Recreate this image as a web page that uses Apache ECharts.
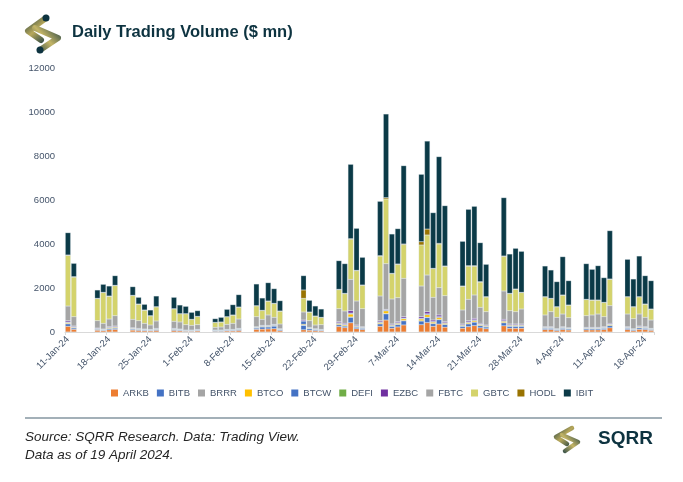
<!DOCTYPE html>
<html>
<head>
<meta charset="utf-8">
<script src="https://cdn.jsdelivr.net/npm/echarts@6/dist/echarts.min.js"></script>
<style>
html,body{margin:0;padding:0;background:#fff;}
#chart{width:683px;height:482px;}
</style>
</head>
<body>
<div id="chart"></div>
<script>
// ---- Data (US$ mn, daily trading volume by spot bitcoin ETF) ----
const tickLabels = ['11-Jan-24','18-Jan-24','25-Jan-24','1-Feb-24','8-Feb-24','15-Feb-24','22-Feb-24','29-Feb-24','7-Mar-24','14-Mar-24','21-Mar-24','28-Mar-24','4-Apr-24','11-Apr-24','18-Apr-24'];

const tradingDates = [
 '11-Jan-24','12-Jan-24',
 '16-Jan-24','17-Jan-24','18-Jan-24','19-Jan-24',
 '22-Jan-24','23-Jan-24','24-Jan-24','25-Jan-24','26-Jan-24',
 '29-Jan-24','30-Jan-24','31-Jan-24','1-Feb-24','2-Feb-24',
 '5-Feb-24','6-Feb-24','7-Feb-24','8-Feb-24','9-Feb-24',
 '12-Feb-24','13-Feb-24','14-Feb-24','15-Feb-24','16-Feb-24',
 '20-Feb-24','21-Feb-24','22-Feb-24','23-Feb-24',
 '26-Feb-24','27-Feb-24','28-Feb-24','29-Feb-24','1-Mar-24',
 '4-Mar-24','5-Mar-24','6-Mar-24','7-Mar-24','8-Mar-24',
 '11-Mar-24','12-Mar-24','13-Mar-24','14-Mar-24','15-Mar-24',
 '18-Mar-24','19-Mar-24','20-Mar-24','21-Mar-24','22-Mar-24',
 '25-Mar-24','26-Mar-24','27-Mar-24','28-Mar-24',
 '1-Apr-24','2-Apr-24','3-Apr-24','4-Apr-24','5-Apr-24',
 '8-Apr-24','9-Apr-24','10-Apr-24','11-Apr-24','12-Apr-24',
 '15-Apr-24','16-Apr-24','17-Apr-24','18-Apr-24','19-Apr-24'
];

const ARKB = [260,120, 80,60,100,115, 85,70,55,50,70, 70,55,35,35,50, 30,30,50,50,70, 120,130,140,150,60, 100,80,60,50, 250,200,420,150,110, 260,545,170,230,320, 330,430,260,360,220, 170,240,290,190,150, 280,170,170,170, 110,110,65,110,90, 95,95,95,110,190, 110,65,120,110,75];
const BITB = [110,65, 40,30,55,60, 45,40,35,30,40, 40,35,25,25,30, 35,35,35,35,45, 60,100,90,120,45, 200,70,45,35, 80,70,250,70,60, 110,280,90,110,190, 170,230,120,200,120, 90,130,160,100,80, 140,90,90,90, 60,60,45,60,50, 55,55,55,60,100, 60,45,70,60,45];
const BRRR = [15,8, 5,4,5,6, 4,4,3,3,4, 4,3,2,2,3, 2,2,3,3,4, 5,5,5,5,3, 10,4,3,3, 8,6,15,5,4, 8,15,5,6,10, 10,12,8,10,6, 5,7,8,5,4, 7,5,5,5, 4,4,3,4,3, 3,3,3,4,5, 4,3,4,4,3];
const BTCO = [40,30, 20,15,35,40, 25,20,15,13,20, 20,15,10,10,13, 8,8,12,12,18, 20,25,25,25,15, 40,20,15,12, 50,45,130,35,25, 50,120,40,50,80, 80,110,60,90,50, 40,55,65,40,35, 60,40,40,40, 25,25,15,25,20, 22,22,22,25,40, 25,15,30,25,18];
const BTCW = [25,15, 10,8,15,15, 12,10,9,8,10, 10,9,6,6,8, 6,6,8,8,10, 15,20,20,25,10, 150,18,10,8, 30,25,40,20,15, 30,40,20,25,30, 30,40,30,35,25, 20,25,30,20,15, 25,20,20,20, 15,15,10,15,12, 13,13,13,15,20, 15,10,18,15,10];
const DEFI = [5,3, 2,2,2,3, 2,2,2,2,2, 2,2,1,1,2, 1,1,1,1,2, 2,2,2,2,1, 5,2,1,1, 2,2,5,2,2, 3,5,2,2,3, 3,4,3,3,2, 2,3,3,2,2, 3,2,2,2, 2,2,1,2,2, 2,2,2,2,2, 2,1,2,2,1];
const EZBC = [60,32, 23,17,30,33, 24,21,17,15,21, 21,17,11,11,15, 8,8,12,12,18, 20,21,21,21,18, 40,18,18,12, 50,46,110,36,26, 54,25,37,47,64, 74,98,64,75,47, 37,55,65,37,32, 61,37,37,37, 26,26,13,26,20, 22,22,22,26,37, 26,13,28,26,15];
const FBTC = [665,424, 335,258,348,470, 379,348,258,197,333, 318,319,243,213,212, 122,137,227,273,423, 455,273,470,319,212, 364,303,166,212, 590,561,1424,1091,818, 1121,2076,1136,1090,1742, 1393,1666,1031,1242,1181, 636,970,1061,727,606, 1287,606,560,681, 531,682,515,576,454, 530,561,606,455,803, 576,454,546,425,378];
const GBTC = [2300,1800, 1000,1395,1030,1363, 1075,745,596,414,640, 565,370,492,265,371, 220,221,340,370,536, 490,400,626,626,581, 621,382,400,325, 860,782,1818,1374,1056, 1814,2940,1146,1511,1531, 1864,1819,1298,1985,1329, 1070,1505,1308,1147,667, 1566,772,1015,743, 820,593,474,851,566, 733,671,626,641,1197, 778,535,778,595,490];
const HODL = [20,18, 15,14,16,16, 15,12,10,10,11, 10,8,8,8,8, 7,7,9,9,10, 10,9,10,10,10, 380,12,9,9, 19,20,30,20,20, 20,60,20,20,30, 150,270,20,30,20, 20,25,25,20,15, 25,15,15,15, 13,13,10,13,10, 10,10,10,10,15, 10,10,10,10,10];
const IBIT = [1014,605, 379,364,454,439, 394,304,257,258,485, 516,394,333,318,258, 167,211,333,469,561, 985,560,833,667,469, 651,530,455,378, 1303,1349,3379,1909,1258, 2469,3803,1788,1606,3560, 3063,4000,2530,3940,2742, 2031,2561,2697,1772,1470, 2652,1788,1849,1863, 1394,1288,1137,1742,1106, 1621,1394,1561,1122,2197, 1697,1258,1848,1288,1288];

const seriesNames = ['ARKB','BITB','BRRR','BTCO','BTCW','DEFI','EZBC','FBTC','GBTC','HODL','IBIT'];
const seriesValues = [ARKB,BITB,BRRR,BTCO,BTCW,DEFI,EZBC,FBTC,GBTC,HODL,IBIT];
const seriesColors = ['#ED7D31','#4472C4','#A5A5A5','#FFC000','#4472C4','#70AD47','#7030A0','#A5A5A5','#D4D36B','#997300','#0B3A47'];

// ---- calendar-day category axis (11 Jan – 19 Apr 2024) ----
const MONTHS = ['Jan','Feb','Mar','Apr','May','Jun','Jul','Aug','Sep','Oct','Nov','Dec'];
const days = [];
for (let t = Date.UTC(2024,0,11); t <= Date.UTC(2024,3,19); t += 86400000) {
  const d = new Date(t);
  days.push(d.getUTCDate() + '-' + MONTHS[d.getUTCMonth()] + '-24');
}
const tickSet = new Set(tickLabels);

const chart = echarts.init(document.getElementById('chart'), null, {renderer:'canvas'});

const series = seriesNames.map((name, k) => ({
  name: name,
  type: 'bar',
  stack: 'vol',
  barWidth: '90%',
  itemStyle: { color: seriesColors[k], borderColor: 'rgba(210,222,228,0.8)', borderWidth: 0.35 },
  emphasis: { disabled: true },
  data: tradingDates.map((d, i) => [d, seriesValues[k][i]])
}));

const txt = '#44546A';
const FONT = 'Liberation Sans, Arial, sans-serif';

chart.setOption({
  animation: false,
  backgroundColor: '#ffffff',
  textStyle: { fontFamily: FONT },
  grid: { left: 65, right: 29, top: 68, bottom: 150 },
  xAxis: {
    type: 'category',
    data: days,
    boundaryGap: true,
    axisLine: { show: true, lineStyle: { color: '#D9D9D9', width: 1 } },
    axisTick: { show: true, length: 3, lineStyle: { color: '#D9D9D9' },
      interval: (idx, val) => tickSet.has(val) },
    axisLabel: { rotate: 45, fontSize: 9.5, color: txt, margin: 6,
      interval: (idx, val) => tickSet.has(val) },
    splitLine: { show: false }
  },
  yAxis: {
    type: 'value',
    min: 0, max: 12000, interval: 2000,
    axisLine: { show: false },
    axisTick: { show: false },
    splitLine: { show: false },
    axisLabel: { fontSize: 9.5, color: txt, margin: 10, formatter: v => String(v) }
  },
  legend: {
    data: seriesNames,
    top: 383,
    left: 106,
    icon: 'rect',
    itemWidth: 7,
    itemHeight: 7,
    itemGap: 8,
    itemStyle: { borderWidth: 0 },
    textStyle: { fontSize: 9.5, color: txt },
    selectedMode: false
  },
  series: series,
  graphic: [
    // logo icon (top-left)
    { type: 'polyline', shape: { points: [[46,18],[28,31],[41,40]] },
      style: { fill: null, lineWidth: 6, lineCap: 'round', lineJoin: 'round',
        stroke: new echarts.graphic.LinearGradient(0,0,1,1,[{offset:0,color:'#0d3340'},{offset:0.5,color:'#b8a85a'},{offset:1,color:'#0d3340'}]) } },
    { type: 'polyline', shape: { points: [[35,28],[58,38],[40,50]] },
      style: { fill: null, lineWidth: 6, lineCap: 'round', lineJoin: 'round',
        stroke: new echarts.graphic.LinearGradient(1,0,0,1,[{offset:0,color:'#0d3340'},{offset:0.5,color:'#c4b566'},{offset:1,color:'#0d3340'}]) } },
    { type: 'circle', shape: { cx: 46, cy: 18, r: 3.5 }, style: { fill: '#0d3340' } },
    { type: 'circle', shape: { cx: 40, cy: 50, r: 3.5 }, style: { fill: '#0d3340' } },
    // title
    { type: 'text', left: 72, top: 24,
      style: { text: 'Daily Trading Volume ($ mn)', fontSize: 16.5, fontWeight: 'bold',
        fill: '#0d3340', fontFamily: FONT } },
    // footer rule
    { type: 'line', shape: { x1: 25, y1: 418, x2: 662, y2: 418 },
      style: { stroke: '#8496A0', lineWidth: 1.5 } },
    // source text
    { type: 'text', left: 25, top: 430,
      style: { text: 'Source: SQRR Research. Data: Trading View.', fontSize: 13.5, fontStyle: 'italic',
        fill: '#262626', fontFamily: FONT } },
    { type: 'text', left: 25, top: 448,
      style: { text: 'Data as of 19 April 2024.', fontSize: 13.5, fontStyle: 'italic',
        fill: '#262626', fontFamily: FONT } },
    // footer logo
    { type: 'polyline', shape: { points: [[572,428],[556,437],[567,444]] },
      style: { fill: null, lineWidth: 4.5, lineCap: 'round', lineJoin: 'round',
        stroke: new echarts.graphic.LinearGradient(0,0,1,1,[{offset:0,color:'#0d3340'},{offset:0.5,color:'#b8a85a'},{offset:1,color:'#0d3340'}]) } },
    { type: 'polyline', shape: { points: [[562,435],[578,442],[565,451]] },
      style: { fill: null, lineWidth: 4.5, lineCap: 'round', lineJoin: 'round',
        stroke: new echarts.graphic.LinearGradient(1,0,0,1,[{offset:0,color:'#0d3340'},{offset:0.5,color:'#c4b566'},{offset:1,color:'#0d3340'}]) } },
    { type: 'text', left: 598, top: 429,
      style: { text: 'SQRR', fontSize: 19, fontWeight: 'bold', fill: '#0d3340', fontFamily: FONT } }
  ]
});
</script>
</body>
</html>
